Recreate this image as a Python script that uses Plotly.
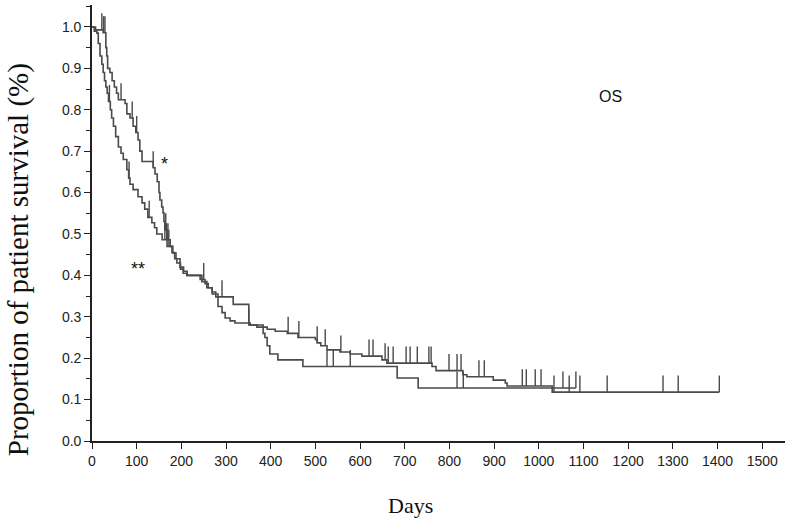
import plotly.graph_objects as go

# Curve "*" (upper early) — step times (days) and survival after each step
a_time = [0, 8, 25, 31, 33, 35, 40, 45, 50, 55,
          59, 74, 78, 85, 92, 98, 103, 107, 112, 137,
          141, 146, 150, 152, 156, 159, 161, 163, 168, 170,
          175, 181, 188, 197, 205, 213, 242, 253, 260, 269,
          277, 316, 351, 369, 392, 410, 437, 461, 500, 504,
          512, 526, 555, 578, 604, 649, 660, 761, 770, 830,
          839, 898, 925, 929, 1030, 1404]
a_surv = [1.0, 0.993, 0.986, 0.95, 0.93, 0.90, 0.89, 0.87, 0.855, 0.84,
          0.824, 0.815, 0.79, 0.78, 0.76, 0.745, 0.727, 0.70, 0.675, 0.66,
          0.645, 0.626, 0.60, 0.582, 0.565, 0.551, 0.53, 0.51, 0.495, 0.486,
          0.47, 0.454, 0.44, 0.42, 0.41, 0.40, 0.39, 0.38, 0.37, 0.36,
          0.348, 0.33, 0.28, 0.275, 0.27, 0.265, 0.26, 0.25, 0.245, 0.237,
          0.23, 0.22, 0.215, 0.21, 0.205, 0.196, 0.188, 0.18, 0.17, 0.16,
          0.155, 0.147, 0.14, 0.133, 0.118, 0.118]
a_cens = [22, 26, 29, 65, 90, 100, 137, 165, 170, 250, 291, 351, 439, 463,
          504, 522, 557, 620, 629, 656, 663, 674, 703, 712, 728, 754, 759,
          799, 817, 826, 866, 878, 963, 972, 992, 1005, 1034, 1068, 1092,
          1153, 1278, 1312, 1404]

# Curve "**" (lower early)
b_time = [0, 5, 11, 14, 18, 22, 25, 28, 31, 34,
          37, 41, 44, 48, 53, 59, 65, 70, 78, 82,
          85, 92, 103, 112, 118, 125, 134, 140, 145, 157,
          168, 179, 185, 190, 198, 204, 212, 246, 257, 269,
          282, 291, 298, 309, 320, 354, 383, 387, 392, 398,
          416, 472, 683, 730, 1083]
b_surv = [1.0, 0.99, 0.985, 0.96, 0.93, 0.91, 0.89, 0.87, 0.855, 0.84,
          0.82, 0.80, 0.78, 0.76, 0.735, 0.71, 0.695, 0.68, 0.655, 0.635,
          0.62, 0.607, 0.59, 0.575, 0.56, 0.54, 0.527, 0.515, 0.50, 0.486,
          0.47, 0.455, 0.44, 0.43, 0.415, 0.405, 0.40, 0.385, 0.37, 0.355,
          0.325, 0.31, 0.297, 0.29, 0.285, 0.28, 0.26, 0.25, 0.23, 0.21,
          0.196, 0.18, 0.152, 0.128, 0.128]
b_cens = [39, 83, 128, 163, 167, 172, 526, 540, 578, 817, 831, 1054, 1083]

x_ticks = list(range(0, 1501, 100))
y_ticks = [i / 10 for i in range(11)]

LINE = "#4a4a4a"
TICK_H = 0.04


def surv_at(times, surv, t):
    s = surv[0]
    for ti, si in zip(times, surv):
        if ti <= t:
            s = si
        else:
            break
    return s


def censor_xy(times, surv, cens):
    xs, ys = [], []
    for t in cens:
        s = surv_at(times, surv, t)
        xs += [t, t, None]
        ys += [s, s + TICK_H, None]
    return xs, ys


fig = go.Figure()
for times, surv, cens in [(a_time, a_surv, a_cens), (b_time, b_surv, b_cens)]:
    fig.add_trace(go.Scatter(x=times, y=surv, mode="lines", line_shape="hv",
                             line=dict(color=LINE, width=1.6), showlegend=False,
                             hoverinfo="skip"))
    cx, cy = censor_xy(times, surv, cens)
    fig.add_trace(go.Scatter(x=cx, y=cy, mode="lines",
                             line=dict(color=LINE, width=1.4), showlegend=False,
                             hoverinfo="skip"))

fig.update_layout(
    width=787, height=522,
    margin=dict(l=92, r=2, t=5, b=81, autoexpand=False),
    paper_bgcolor="white", plot_bgcolor="white",
    font=dict(family="Liberation Sans, Arial, sans-serif", size=14, color="#222"),
)
fig.update_xaxes(
    range=[0, 1551], tickvals=x_ticks, ticktext=[str(v) for v in x_ticks],
    showgrid=False, zeroline=False, showline=True, linecolor="#222", linewidth=1.6,
    ticks="outside", ticklen=6, tickwidth=1.4, tickcolor="#222",
    tickfont=dict(family="Liberation Sans Narrow, Arial Narrow, Liberation Sans, Arial", size=14),
)
fig.update_yaxes(
    range=[0, 1.053], tickvals=y_ticks, ticktext=[f"{v:.1f}" for v in y_ticks],
    showgrid=False, zeroline=False, showline=True, linecolor="#222", linewidth=1.6,
    ticks="outside", ticklen=6, tickwidth=1.4, tickcolor="#222",
    minor=dict(dtick=0.05, tick0=0, ticks="outside", ticklen=4, tickwidth=1.2, tickcolor="#222"),
    tickfont=dict(size=14),
)

serif = "Liberation Serif, Times New Roman, serif"
fig.add_annotation(text="Proportion of patient survival (%)", xref="paper", yref="paper",
                   x=-0.1068, y=0.417, xanchor="center", yanchor="middle",
                   textangle=-90, showarrow=False,
                   font=dict(family=serif, size=29, color="#111"))
fig.add_annotation(text="Days", xref="paper", yref="paper", x=0.459, y=-0.147,
                   xanchor="center", yanchor="middle",
                   showarrow=False, font=dict(family=serif, size=22, color="#111"))
fig.add_annotation(text="OS", x=1160, y=0.833, showarrow=False,
                   font=dict(size=16, color="#111"))
fig.add_annotation(text="*", x=163, y=0.67, showarrow=False,
                   font=dict(size=18, color="#111"))
fig.add_annotation(text="**", x=102, y=0.415, showarrow=False,
                   font=dict(size=18, color="#111"))

fig.write_html("out.html", config={"displayModeBar": False},
               post_script="document.body.style.margin='0';")
